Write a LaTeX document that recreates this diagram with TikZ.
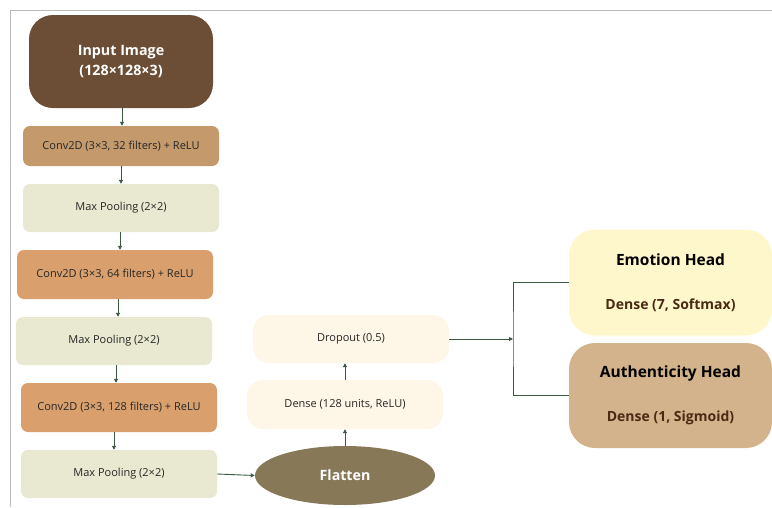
\documentclass[tikz,border=0pt]{standalone}
\usepackage{fontspec}
\setmainfont{Open Sans}
\usetikzlibrary{shapes.geometric,arrows.meta}
\definecolor{inbrown}{HTML}{6C4D36}
\definecolor{convtan}{HTML}{C49A6C}
\definecolor{convorange}{HTML}{D9A06E}
\definecolor{poolgreen}{HTML}{E9E9D1}
\definecolor{flatbrown}{HTML}{877858}
\definecolor{densecream}{HTML}{FEF6E6}
\definecolor{emoyellow}{HTML}{FEF7CC}
\definecolor{authtan}{HTML}{D3B38B}
\definecolor{linegreen}{HTML}{3A5A40}
\definecolor{headbrown}{HTML}{4A2A14}
\definecolor{framegray}{HTML}{BBBBBB}
\begin{document}
\begin{tikzpicture}
[x=1pt, y=-1pt,
 layer/.style={rounded corners=7pt, inner sep=0pt, minimum width=196pt, minimum height=48pt,
   font=\fontsize{11}{13}\selectfont, text=black!85},
 conv/.style={layer, fill=convorange},
 pool/.style={layer, fill=poolgreen},
 fc/.style={layer, fill=densecream, rounded corners=16pt},
 head/.style={rounded corners=26pt, inner sep=0pt, minimum width=203pt, minimum height=106pt,
   align=center, font=\bfseries\fontsize{15.5}{44}\selectfont, text=black},
 arr/.style={-{Triangle[length=4pt,width=4pt]}, draw=linegreen, line width=0.9pt},
 link/.style={draw=linegreen, line width=0.9pt}]
\useasboundingbox (0,0) rectangle (772,507);
\draw[framegray, line width=1pt] (10,507) -- (10,10) -- (772,10);

% feature extractor
\node[rounded corners=24pt, fill=inbrown, minimum width=184pt, minimum height=93pt, align=center,
  text=white, font=\bfseries\fontsize{14.3}{20}\selectfont] (input) at (121,61.5) {Input Image\\(128×128×3)};
\node[layer, fill=convtan, minimum height=40pt] (conv1) at (121,146) {Conv2D (3×3, 32 filters) + ReLU};
\node[pool] (pool1) at (121,208) {Max Pooling (2×2)};
\node[conv, minimum height=49pt] (conv2) at (115,274.5) {Conv2D (3×3, 64 filters) + ReLU};
\node[pool] (pool2) at (114,341) {Max Pooling (2×2)};
\node[conv, minimum height=49pt] (conv3) at (119,407.5) {Conv2D (3×3, 128 filters) + ReLU};
\node[pool] (pool3) at (119,474) {Max Pooling (2×2)};

% classifier
\node[ellipse, fill=flatbrown, minimum width=180pt, minimum height=59pt, text=white,
  font=\bfseries\fontsize{14.2}{16}\selectfont] (flat) at (345,475.5) {Flatten};
\node[fc, minimum height=49pt] (dense) at (345,404.5) {Dense (128 units, ReLU)};
\node[fc] (drop) at (351,339) {Dropout (0.5)};
\coordinate (split) at (513,339);

% output heads
\node[head, fill=emoyellow] (emo) at (670.5,282.5) {Emotion Head\\\textcolor{headbrown}{\fontsize{14}{16}\selectfont Dense (7, Softmax)}};
\node[head, fill=authtan, minimum height=105pt] (auth) at (670.5,395.5) {Authenticity Head\\\textcolor{headbrown}{\fontsize{14}{16}\selectfont Dense (1, Sigmoid)}};

\draw[arr] (input.south -| 122,0) -- (conv1.north -| 122,0);
\draw[arr] (conv1.south) -- (pool1.north);
\draw[arr] (pool1.south -| 120,0) -- (conv2.north -| 120,0);
\draw[arr] (conv2.south -| 118,0) -- (pool2.north -| 118,0);
\draw[arr] (pool2.south -| 116,0) -- (conv3.north -| 116,0);
\draw[arr] (conv3.south -| 114,0) -- (pool3.north -| 114,0);
\draw[arr] (pool3.east) -- (flat.west);
\draw[arr] (flat.north) -- (dense.south);
\draw[arr] (dense.north) -- (dense.north |- drop.south);
\draw[arr] (drop.east) -- (split);
\draw[link] (emo.west) -| (split) |- (auth.west);
\end{tikzpicture}
\end{document}
